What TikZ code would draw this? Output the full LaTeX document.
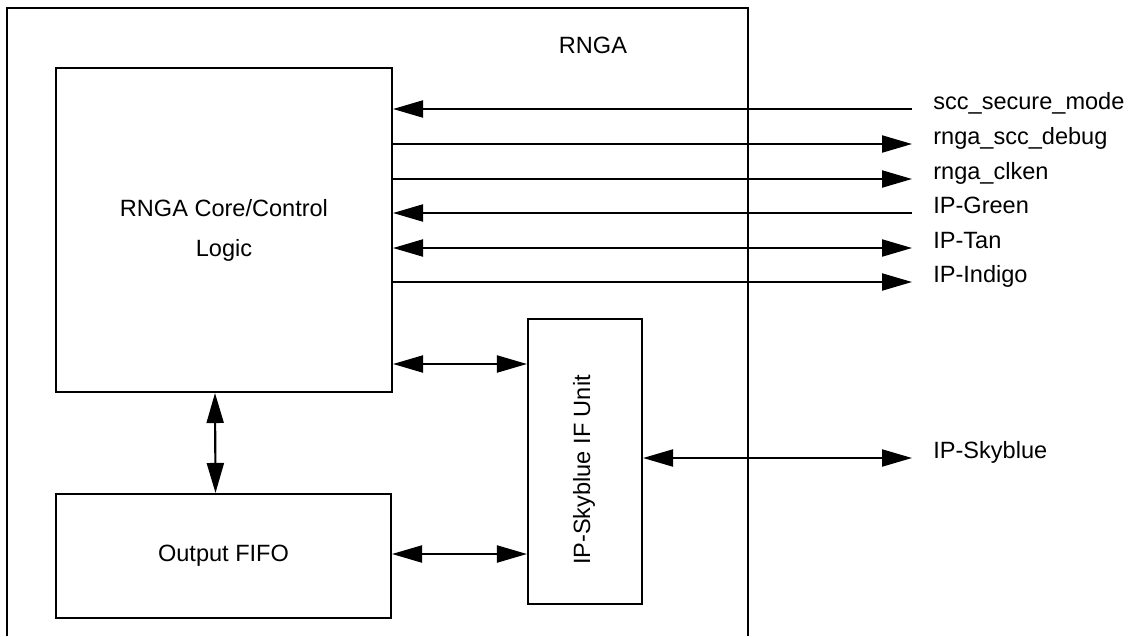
\documentclass[tikz,border=0pt]{standalone}
\usepackage{fontspec}
\setmainfont{Liberation Sans}
\usetikzlibrary{arrows.meta}

\begin{document}
\begin{tikzpicture}[x=0.02cm, y=-0.02cm, font=\fontsize{13.4}{22.7}\selectfont,
		line join=miter, >={Triangle[length=0.6cm, width=0.34cm]},
		block/.style={draw, line width=1.2pt, inner sep=0pt, align=center},
		sig/.style={anchor=base west, inner sep=0pt},
		wire/.style={line width=1.2pt, shorten >=0.42cm}]
			\useasboundingbox (0,0) rectangle (1132,636);
			% RNGA boundary (bottom edge lies off the page)
			\draw[line width=1.2pt] (7,636) -- (7,8) -- (748,8) -- (748,636);
			\node (rnga) at (593,45) {RNGA};
			
			\node[block, minimum width=6.72cm, minimum height=6.48cm] (core) at (224,230) {RNGA Core/Control\\Logic};
			\node[block, minimum width=6.7cm, minimum height=2.48cm] (fifo) at (223.5,556) {Output FIFO};
			\node[block, minimum width=2.28cm, minimum height=5.7cm] (ifunit) at (585,461.5) {};
			\node[rotate=90] (iflabel) at (584,470) {IP-Skyblue IF Unit};
			
			% signals on the right
			\foreach \i/\y/\txt/\tip in {1/109/scc\_secure\_mode/<-, 2/144/rnga\_scc\_debug/->, 3/179/rnga\_clken/->,
				4/213/IP-Green/<-, 5/248/IP-Tan/<->, 6/282/IP-Indigo/->} {
				\node[sig] (sig\i) at (933,\y) {\txt};
				\draw[wire, \tip] (core.east |- sig\i.base) -- (sig\i.base west);
			}
			\node[sig] (sky) at (933,458) {IP-Skyblue};
			\draw[wire, <->] (ifunit.east |- sky.base) -- (sky.base west);
			
			% internal buses
			\draw[line width=1.2pt, <->] (core.east |- 0,364) -- (ifunit.west |- 0,364);
			\draw[line width=1.2pt, <->] (fifo.east |- 0,554) -- (ifunit.west |- 0,554);
			\draw[line width=1.2pt, <->] ([xshift=-0.18cm]core.south) -- ([xshift=-0.16cm]fifo.north);
		\end{tikzpicture}
\end{document}
